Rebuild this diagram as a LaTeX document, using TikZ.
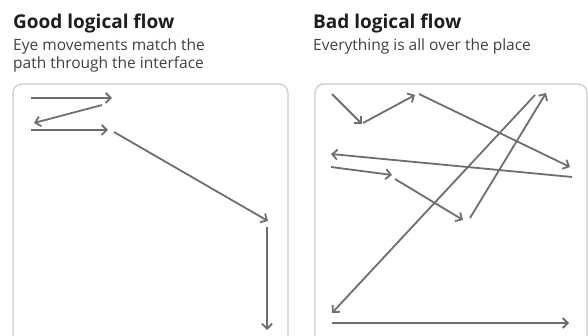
\documentclass[tikz,border=0pt]{standalone}
\usepackage{fontspec}
\setmainfont{Open Sans}
\usetikzlibrary{arrows.meta}
\definecolor{flowgray}{HTML}{6E6E6E}
\definecolor{framegray}{HTML}{CBCBCB}
\definecolor{inkblack}{HTML}{1E1E1E}

\begin{document}
\begin{tikzpicture}[x=1pt, y=-1pt,
    flow/.style={draw=flowgray, line width=1.8pt, -{Straight Barb[length=5pt, width=10pt]}},
    frame/.style={draw=framegray, line width=1.2pt, rounded corners=9pt},
    heading/.style={anchor=base west, inner sep=0pt, text=inkblack, font=\fontsize{19}{21}\selectfont\bfseries},
    caption/.style={anchor=base west, inner sep=0pt, text=inkblack!85, align=left, font=\fontsize{15.5}{18}\selectfont}]
    \useasboundingbox (0,0) rectangle (588,336);
    \clip (0,0) rectangle (588,336);
    %
    %%% Good logical flow
    \node[heading] (goodtitle) at (13,29) {Good logical flow};
    \node[caption] (goodtext) at (13,69) {Eye movements match the\\path through the interface};
    \draw[frame] (13,84) rectangle (288,346);
    %
    \coordinate (g1) at (31,98);
    \coordinate (g2) at (112,98);
    \coordinate (g3) at (102,105);
    \coordinate (g4) at (34,123);
    \coordinate (g5) at (31,130);
    \coordinate (g6) at (108,130);
    \coordinate (g7) at (114,132);
    \coordinate (g8) at (268,221);
    \coordinate (g9) at (267,227);
    \coordinate (g10) at (267,330);
    \draw[flow] (g1) -- (g2);
    \draw[flow] (g3) -- (g4);
    \draw[flow] (g5) -- (g6);
    \draw[flow] (g7) -- (g8);
    \draw[flow] (g9) -- (g10);
    %
    %%% Bad logical flow
    \node[heading] (badtitle) at (313,29) {Bad logical flow};
    \node[caption] (badtext) at (313,51) {Everything is all over the place};
    \draw[frame] (315,84) rectangle (587,346);
    %
    \coordinate (b1) at (332,94);
    \coordinate (b2) at (362,124);
    \coordinate (b3) at (363,123);
    \coordinate (b4) at (415,95);
    \coordinate (b5) at (419,94);
    \coordinate (b6) at (570,167);
    \coordinate (b7) at (572,177);
    \coordinate (b8) at (331,154);
    \coordinate (b9) at (331,167);
    \coordinate (b10) at (392,175);
    \coordinate (b11) at (395,179);
    \coordinate (b12) at (463,220);
    \coordinate (b13) at (470,218);
    \coordinate (b14) at (546,93);
    \coordinate (b15) at (535,95);
    \coordinate (b16) at (332,313);
    \coordinate (b17) at (332,323);
    \coordinate (b18) at (569,323);
    \draw[flow] (b1) -- (b2);
    \draw[flow] (b3) -- (b4);
    \draw[flow] (b5) -- (b6);
    \draw[flow] (b7) -- (b8);
    \draw[flow] (b9) -- (b10);
    \draw[flow] (b11) -- (b12);
    \draw[flow] (b13) -- (b14);
    \draw[flow] (b15) -- (b16);
    \draw[flow] (b17) -- (b18);
\end{tikzpicture}
\end{document}
